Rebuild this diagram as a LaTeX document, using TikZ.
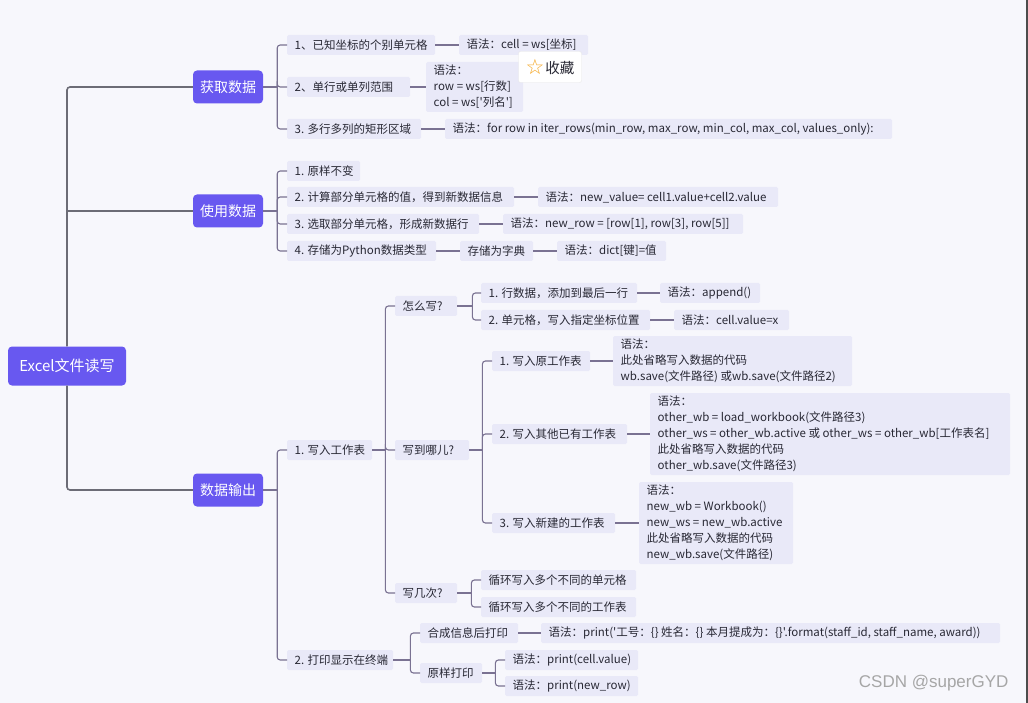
\documentclass[tikz,border=0pt]{standalone}
\usepackage{fontspec}
\setmainfont{Noto Sans CJK SC}[Ligatures=TeXOff]
\newfontfamily\symfont{DejaVu Sans}
\newfontfamily\wmfont{Liberation Sans}
\definecolor{bg}{RGB}{247,247,252}
\definecolor{mainc}{RGB}{104,88,240}
\definecolor{leafc}{RGB}{233,233,248}
\definecolor{linec}{RGB}{122,114,146}
\definecolor{rootline}{RGB}{108,108,118}
\definecolor{txt}{RGB}{40,40,52}
\definecolor{staror}{RGB}{245,166,35}
\newcommand\mmbranch[2]{\draw[conn] (#1) |- (#2.west);}
% \mmleaf{name}{x,y}{box width}{text}
\newcommand\mmleaf[4]{\node[leaf] (#1) at (#2) {\makebox[\dimexpr#3pt-15pt\relax][l]{#4}};}
% \mmmulti{name}{x,y}{box width}{lines}
\newcommand\mmmulti[4]{\node[leaf, inner ysep=1] (#1) at (#2) {\makebox[\dimexpr#3pt-15pt\relax][l]{\begin{tabular}{@{}l@{}}#4\end{tabular}}};}
\begin{document}
\begin{tikzpicture}[x=1pt,y=-1pt,
  mainbox/.style={fill=mainc, rounded corners=4, text=white, font=\fontsize{14}{16}\selectfont, minimum height=33, minimum width=70, inner sep=0},
  leaf/.style={fill=leafc, rounded corners=1.5, text=txt, font=\fontsize{11.5}{16}\selectfont, anchor=west, minimum height=20, inner xsep=7.5, inner ysep=3},
  conn/.style={draw=linec, line width=1.1, rounded corners=3},
  rootconn/.style={draw=rootline, line width=1.6, rounded corners=3}]
\fill[bg] (0,0) rectangle (1028,703);
\useasboundingbox (0,0) rectangle (1028,703);
\draw[line width=2, black!70] (1027,0) -- (1027,703);

% level 0/1
\node[mainbox, minimum width=118, minimum height=39, font=\fontsize{15}{16}\selectfont] (root) at (67,366) {Excel文件读写};
\node[mainbox] (g1) at (228,87) {获取数据};
\node[mainbox] (g2) at (228,211) {使用数据};
\node[mainbox] (g3) at (228,490) {数据输出};
\draw[rootconn] (root.north) |- (g1.west);
\draw[rootconn, sharp corners] (root.north) |- (g2.west);
\draw[rootconn] (root.south) |- (g3.west);

% 获取数据
\mmleaf{a1}{287,45}{148}{1、已知坐标的个别单元格}
\mmleaf{a1s}{459,45}{129}{语法：cell = ws[坐标]}
\mmleaf{a2}{287,87}{123}{2、单行或单列范围}
\mmmulti{a2s}{426,87}{97}{语法：\\row = ws[行数]\\col = ws['列名']}
\mmleaf{a3}{287,129}{134}{3. 多行多列的矩形区域}
\mmleaf{a3s}{445,129}{447}{语法：for row in iter\_rows(min\_row, max\_row, min\_col, max\_col, values\_only):}
\path (g1.east) ++(14,0) coordinate (j1);
\draw[conn] (g1.east) -- (j1);
\mmbranch{j1}{a1}\mmbranch{j1}{a2}\mmbranch{j1}{a3}
\draw[conn] (a1.east) -- (a1s.west);
\draw[conn] (a2.east) -- (a2s.west);
\draw[conn] (a3.east) -- (a3s.west);
\node[draw=black!9, fill=white, rounded corners=2, minimum width=63, minimum height=31, inner sep=0, text=txt, font=\fontsize{14.5}{16}\selectfont] (fav) at (550,67) {\raisebox{-1pt}{\symfont\fontsize{21}{21}\selectfont\color{staror}☆}\kern1pt 收藏};

% 使用数据
\mmleaf{b1}{287,171}{73}{1. 原样不变}
\mmleaf{b2}{287,197}{227}{2. 计算部分单元格的值，得到新数据信息}
\mmleaf{b2s}{538,197}{240}{语法：new\_value= cell1.value+cell2.value}
\mmleaf{b3}{287,224}{192}{3. 选取部分单元格，形成新数据行}
\mmleaf{b3s}{503,224}{240}{语法：new\_row = [row[1], row[3], row[5]]}
\mmleaf{b4}{287,251}{149}{4. 存储为Python数据类型}
\mmleaf{b4a}{460,251}{73}{存储为字典}
\mmleaf{b4s}{557,251}{109}{语法：dict[键]=值}
\path (g2.east) ++(14,0) coordinate (j2);
\draw[conn] (g2.east) -- (j2);
\mmbranch{j2}{b1}\mmbranch{j2}{b2}\mmbranch{j2}{b3}\mmbranch{j2}{b4}
\draw[conn] (b2.east) -- (b2s.west);
\draw[conn] (b3.east) -- (b3s.west);
\draw[conn] (b4.east) -- (b4a.west);
\draw[conn] (b4a.east) -- (b4s.west);

% 数据输出
\mmleaf{c1}{287,450}{85}{1. 写入工作表}
\mmleaf{c2}{287,660}{106}{2. 打印显示在终端}
\path (g3.east) ++(14,0) coordinate (j3);
\draw[conn] (g3.east) -- (j3);
\mmbranch{j3}{c1}\mmbranch{j3}{c2}

\mmleaf{d1}{395,306}{62}{怎么写?}
\mmleaf{d2}{395,450}{74}{写到哪儿?}
\mmleaf{d3}{395,593}{62}{写几次?}
\path (c1.east) ++(13,0) coordinate (jc1);
\draw[conn] (c1.east) -- (jc1);
\mmbranch{jc1}{d1}\mmbranch{jc1}{d2}\mmbranch{jc1}{d3}

\mmleaf{e1}{481,293}{156}{1. 行数据，添加到最后一行}
\mmleaf{e1s}{660,293}{100}{语法：append()}
\mmleaf{e2}{481,320}{169}{2. 单元格，写入指定坐标位置}
\mmleaf{e2s}{674,320}{115}{语法：cell.value=x}
\path (d1.east) ++(15,0) coordinate (jd1);
\draw[conn] (d1.east) -- (jd1);
\mmbranch{jd1}{e1}\mmbranch{jd1}{e2}
\draw[conn] (e1.east) -- (e1s.west);
\draw[conn] (e2.east) -- (e2s.west);

\mmleaf{f1}{492,361}{98}{1. 写入原工作表}
\mmmulti{f1s}{613,361}{239}{语法：\\此处省略写入数据的代码\\wb.save(文件路径) 或wb.save(文件路径2)}
\mmleaf{f2}{492,434}{135}{2. 写入其他已有工作表}
\mmmulti{f2s}{650,434}{360}{语法：\\other\_wb = load\_workbook(文件路径3)\\other\_ws = other\_wb.active 或 other\_ws = other\_wb[工作表名]\\此处省略写入数据的代码\\other\_wb.save(文件路径3)}
\mmleaf{f3}{492,523}{123}{3. 写入新建的工作表}
\mmmulti{f3s}{639,523}{154}{语法：\\new\_wb = Workbook()\\new\_ws = new\_wb.active\\此处省略写入数据的代码\\new\_wb.save(文件路径)}
\path (d2.east) ++(13,0) coordinate (jd2);
\draw[conn] (d2.east) -- (jd2);
\mmbranch{jd2}{f1}\mmbranch{jd2}{f2}\mmbranch{jd2}{f3}
\draw[conn] (f1.east) -- (f1s.west);
\draw[conn] (f2.east) -- (f2s.west);
\draw[conn] (f3.east) -- (f3s.west);

\mmleaf{h1}{481,580}{155}{循环写入多个不同的单元格}
\mmleaf{h2}{481,607}{155}{循环写入多个不同的工作表}
\path (d3.east) ++(14,0) coordinate (jd3);
\draw[conn] (d3.east) -- (jd3);
\mmbranch{jd3}{h1}\mmbranch{jd3}{h2}

\mmleaf{k1}{420,633}{98}{合成信息后打印}
\mmleaf{k1s}{541,633}{459}{语法：print('工号：\{\} 姓名：\{\} 本月提成为：\{\}'.format(staff\_id, staff\_name, award))}
\mmleaf{k2}{420,673}{62}{原样打印}
\mmleaf{m1}{505,660}{133}{语法：print(cell.value)}
\mmleaf{m2}{505,686}{133}{语法：print(new\_row)}
\path (c2.east) ++(17,0) coordinate (jc2);
\draw[conn] (c2.east) -- (jc2);
\mmbranch{jc2}{k1}\mmbranch{jc2}{k2}
\draw[conn] (k1.east) -- (k1s.west);
\path (k2.east) ++(13,0) coordinate (jk2);
\draw[conn] (k2.east) -- (jk2);
\mmbranch{jk2}{m1}\mmbranch{jk2}{m2}

\node[font=\wmfont\fontsize{17}{17}\selectfont, text=black!35, anchor=east] (wm) at (1012,683) {CSDN @superGYD};
\end{tikzpicture}
\end{document}
